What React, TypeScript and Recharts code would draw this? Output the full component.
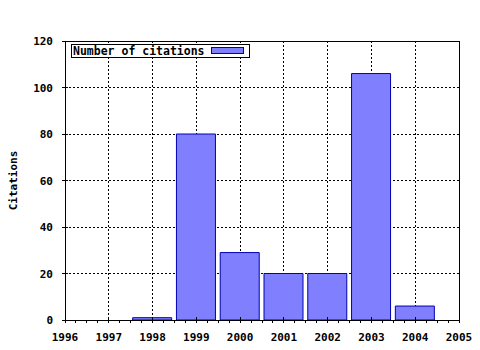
import React from 'react';
import { BarChart, Bar, XAxis, YAxis, CartesianGrid, ReferenceArea } from 'recharts';

const years = [1998, 1999, 2000, 2001, 2002, 2003, 2004];
const citations = [1, 80, 29, 20, 20, 106, 6];
const xTicks = [1996, 1997, 1998, 1999, 2000, 2001, 2002, 2003, 2004, 2005];
const yTicks = [0, 20, 40, 60, 80, 100, 120];
const xGrid = [1997, 1998, 1999, 2000, 2001, 2002, 2003, 2004];
const yGrid = [20, 40, 60, 80, 100];
const seriesName = 'Number of citations';
const yTitle = 'Citations';
const minorSteps = [0, 0.25, 0.5, 0.75];

const data = years.map((y, i) => ({ year: y, citations: citations[i] }));
const xMinor = xTicks.flatMap((t, i) => (i < xTicks.length - 1 ? minorSteps.map((s) => t + s) : [t]));

const FONT = '"DejaVu Sans Mono", monospace';
const BAR_FILL = '#8080ff';
const BAR_STROKE = '#0000b4';

const BottomTick = (props: any) => {
  const { x, y, payload } = props;
  const v = payload.value;
  const major = Math.abs(v - Math.round(v)) < 1e-6;
  return (
    <g>
      <line x1={x} x2={x} y1={major ? y - 3 : y} y2={y + 3} stroke="#000" shapeRendering="crispEdges" />
      {major && (
        <text x={x} y={y + 21} textAnchor="middle" fontFamily={FONT} fontWeight="bold" fontSize={11} fill="#000">
          {Math.round(v)}
        </text>
      )}
    </g>
  );
};

const TopTick = (props: any) => {
  const { x, y, payload } = props;
  const v = payload.value;
  const major = Math.abs(v - Math.round(v)) < 1e-6;
  return <line x1={x} x2={x} y1={major ? y - 3 : y} y2={y + 3} stroke="#000" shapeRendering="crispEdges" />;
};

const LeftTick = (props: any) => {
  const { x, y, payload } = props;
  return (
    <g>
      <line x1={x - 3} x2={x + 3} y1={y} y2={y} stroke="#000" shapeRendering="crispEdges" />
      <text x={x - 12} y={y + 4} textAnchor="end" fontFamily={FONT} fontWeight="bold" fontSize={11} fill="#000">
        {payload.value}
      </text>
    </g>
  );
};

export default function App() {
  return (
    <div style={{ position: 'absolute', left: 0, top: 0, width: 480, height: 350, background: '#fff' }}>
      <BarChart width={480} height={350} data={data} margin={{ top: 41, right: 21, bottom: 0, left: 0 }}>
        <CartesianGrid
          stroke="#000"
          strokeDasharray="2 2"
          shapeRendering="crispEdges"
          verticalValues={xGrid}
          horizontalValues={yGrid}
        />
        <XAxis
          dataKey="year"
          type="number"
          domain={[1996, 2005]}
          ticks={xMinor}
          interval={0}
          height={30}
          tickSize={0}
          tickMargin={0}
          tickLine={false}
          tick={<BottomTick />}
          axisLine={{ stroke: '#000', shapeRendering: 'crispEdges' }}
        />
        <XAxis
          xAxisId="top"
          orientation="top"
          dataKey="year"
          type="number"
          domain={[1996, 2005]}
          ticks={xMinor}
          interval={0}
          height={0}
          tickSize={0}
          tickMargin={0}
          tickLine={false}
          tick={<TopTick />}
          axisLine={false}
        />
        <YAxis
          type="number"
          domain={[0, 120]}
          ticks={yTicks}
          interval={0}
          width={65}
          tickSize={0}
          tickMargin={0}
          tickLine={false}
          tick={<LeftTick />}
          axisLine={{ stroke: '#000', shapeRendering: 'crispEdges' }}
          label={{
            value: yTitle,
            angle: -90,
            position: 'insideLeft',
            offset: 13,
            style: { fontFamily: FONT, fontWeight: 'bold', fontSize: 11, fill: '#000', textAnchor: 'middle' },
          }}
        />
        <ReferenceArea x1={1996} x2={2005} y1={0} y2={120} fill="none" stroke="#000" strokeWidth={1} shapeRendering="crispEdges" />
        <Bar dataKey="citations" name={seriesName} fill={BAR_FILL} stroke={BAR_STROKE} strokeWidth={1} barSize={39} isAnimationActive={false} />
      </BarChart>
      <div
        style={{
          position: 'absolute',
          left: 71,
          top: 44,
          width: 179,
          height: 14,
          boxSizing: 'border-box',
          border: '1px solid #000',
          background: '#fff',
          fontFamily: FONT,
          fontWeight: 'bold',
          fontSize: 11.5,
          lineHeight: '12px',
          paddingLeft: 1,
          whiteSpace: 'nowrap',
          color: '#000',
        }}
      >
        {seriesName}
        <div
          style={{
            position: 'absolute',
            left: 139,
            top: 2,
            width: 33,
            height: 7,
            boxSizing: 'border-box',
            border: `1px solid ${BAR_STROKE}`,
            background: BAR_FILL,
          }}
        />
      </div>
    </div>
  );
}
